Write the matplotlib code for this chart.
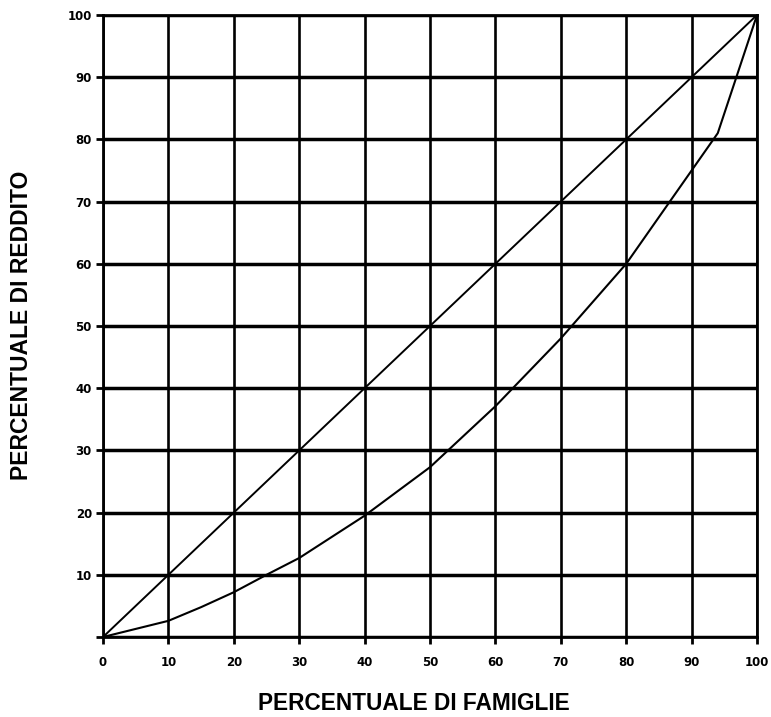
import matplotlib
matplotlib.use("Agg")
import matplotlib.pyplot as plt

# Data
families_pct = [0, 5, 10, 15, 20, 25, 30, 40, 50, 60, 70, 80, 85, 90, 94, 100]
income_pct = [0, 1.3, 2.6, 4.8, 7.2, 10.0, 12.7, 19.5, 27.3, 37.1, 48.0, 60.0, 67.5, 75.0, 81.0, 100]
equality_x = [0, 100]
equality_y = [0, 100]
ticks = list(range(0, 101, 10))
xtick_labels = [str(t) for t in ticks]
ytick_labels = [""] + [str(t) for t in ticks[1:]]

fig = plt.figure(figsize=(7.71, 7.17), dpi=100)
ax = fig.add_axes([103/771, 1 - 637/717, (757-103)/771, (637-15)/717])

ax.plot(equality_x, equality_y, color="black", lw=1.4, solid_capstyle="round")
ax.plot(families_pct, income_pct, color="black", lw=1.5, solid_joinstyle="round")

ax.set_xlim(0, 100)
ax.set_ylim(0, 100)
ax.set_xticks(ticks)
ax.set_yticks(ticks)
ax.set_xticklabels(xtick_labels, fontsize=8.5, fontweight="bold", family="DejaVu Sans")
ax.set_yticklabels(ytick_labels, fontsize=8.5, fontweight="bold", family="DejaVu Sans")
ax.tick_params(axis="both", direction="out", length=5, width=2.0, color="black")
ax.tick_params(axis="x", pad=9)
ax.tick_params(axis="y", pad=3)

for t in ticks:
    ax.axhline(t, color="black", lw=2.5, zorder=1)
    ax.axvline(t, color="black", lw=1.9, zorder=1)
for s in ax.spines.values():
    s.set_linewidth(2.0)

fig.text(414/771, 1 - 704/717, "PERCENTUALE DI FAMIGLIE", ha="center", va="center",
         fontsize=16.3, fontweight="bold", family="Liberation Sans")
fig.text(22/771, 1 - 325/717, "PERCENTUALE DI REDDITO", ha="center", va="center",
         rotation=90, fontsize=16.5, fontweight="bold", family="Liberation Sans")

fig.savefig("out.png", dpi=100)
